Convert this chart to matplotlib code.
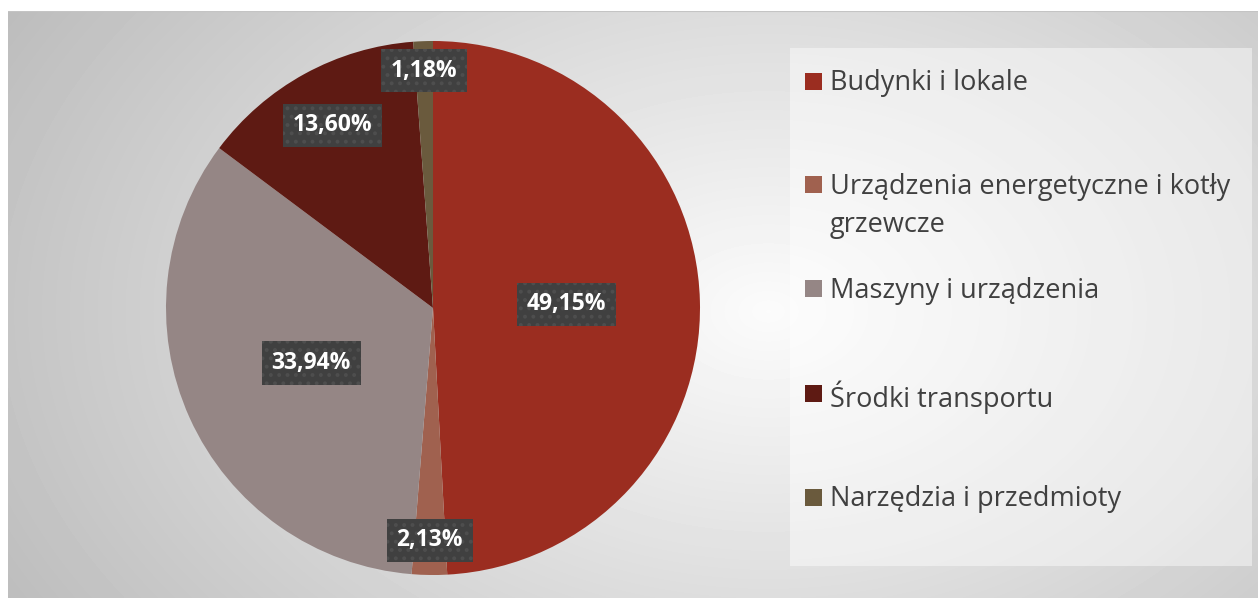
import numpy as np
import matplotlib
matplotlib.use("Agg")
import matplotlib.pyplot as plt
from matplotlib.patches import Rectangle

# data
categories = [
    "Budynki i lokale",
    "Urządzenia energetyczne i kotły\ngrzewcze",
    "Maszyny i urządzenia",
    "Środki transportu",
    "Narzędzia i przedmioty",
]
shares = [49.15, 2.13, 33.94, 13.60, 1.18]
pct_labels = ["49,15%", "2,13%", "33,94%", "13,60%", "1,18%"]
colors = ["#9b2d20", "#a0614f", "#958685", "#5e1a13", "#6a5a3d"]

# label distance from centre (fraction of radius), Excel "best fit" look
label_dist = [0.50, 0.87, 0.50, 0.78, 0.89]

plt.rcParams["font.family"] = ["Open Sans", "DejaVu Sans"]
plt.rcParams["hatch.linewidth"] = 1.6

W, H = 1258, 598
fig = plt.figure(figsize=(W / 100, H / 100), dpi=100)
fig.patch.set_facecolor("white")

# chart area background with radial gradient
bg = fig.add_axes([8 / W, 0, (W - 8) / W, (H - 11) / H])
bg.set_axis_off()
yy, xx = np.mgrid[0:H - 11, 0:W - 8]
cx, cy = 760, 300
d = np.sqrt(((xx - cx) / 820) ** 2 + ((yy - cy) / 560) ** 2)
shade = np.clip(0.985 - 0.23 * d, 0.70, 1.0)
bg.imshow(shade, cmap="gray", vmin=0, vmax=1, aspect="auto",
          extent=[0, 1, 0, 1], origin="upper", interpolation="bilinear")
bg.set_xlim(0, 1)
bg.set_ylim(0, 1)
bg.axhline(1, color="#c4c4c4", lw=1.5)

# legend panel (translucent white)
fig.patches.append(Rectangle((790 / W, (H - 566) / H), (1252 - 790) / W, (566 - 48) / H,
                             transform=fig.transFigure, facecolor="white",
                             alpha=0.45, edgecolor="none", zorder=1))

# pie
cxp, cyp, r = 433, 308, 267
ax = fig.add_axes([(cxp - r) / W, (H - cyp - r) / H, 2 * r / W, 2 * r / H])
wedges, _ = ax.pie(shares, colors=colors, startangle=90, counterclock=False,
                   radius=1.0, wedgeprops=dict(linewidth=0))
ax.set_xlim(-1, 1)
ax.set_ylim(-1, 1)

for w, lab, dist in zip(wedges, pct_labels, label_dist):
    ang = np.deg2rad((w.theta1 + w.theta2) / 2)
    ax.text(dist * np.cos(ang), dist * np.sin(ang), lab, ha="center", va="center",
            color="white", fontsize=16.5, fontweight="bold",
            bbox=dict(boxstyle="square,pad=0.42", facecolor="#404040",
                      edgecolor="#4e4e4e", linewidth=0, hatch=".."))

# legend (manual, Excel style)
top_y = 81
step = 104
line_step = 36
for k, name in enumerate(categories):
    y = top_y + k * step
    fig.patches.append(Rectangle((805 / W, (H - y - 8.5) / H), 17 / W, 17 / H,
                                 transform=fig.transFigure, facecolor=colors[k],
                                 edgecolor="none", zorder=3))
    fig.text(830 / W, (H - y + line_step / 2 - 6) / H, name, ha="left", va="top",
             color="#404040", fontsize=19.5, linespacing=1.48,
             transform=fig.transFigure)

fig.savefig("out.png", dpi=100)
